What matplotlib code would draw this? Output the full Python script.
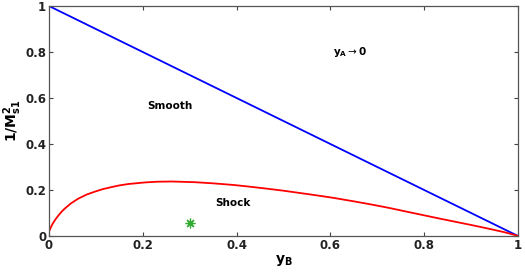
import matplotlib
matplotlib.use("Agg")
import matplotlib.pyplot as plt
import numpy as np

# Data
blue_x = [0.0, 1.0]
blue_y = [1.0, 0.0]

red_x = [0.0, 0.004, 0.008, 0.013, 0.02, 0.027, 0.034, 0.047, 0.062, 0.08, 0.098,
         0.115, 0.134, 0.15, 0.169, 0.205, 0.23, 0.262, 0.311, 0.35,
         0.393, 0.43, 0.464, 0.5, 0.535, 0.57, 0.606, 0.652, 0.69, 0.723,
         0.76, 0.795, 0.83, 0.866, 0.9, 0.937, 0.97, 0.994, 1.0]
red_y = [0.019, 0.038, 0.054, 0.07, 0.089, 0.106, 0.12, 0.142, 0.162, 0.18, 0.193,
         0.204, 0.213, 0.22, 0.226, 0.233, 0.236, 0.237, 0.234, 0.229,
         0.222, 0.214, 0.206, 0.197, 0.187, 0.177, 0.166, 0.15, 0.136, 0.123,
         0.107, 0.092, 0.077, 0.062, 0.048, 0.032, 0.017, 0.004, 0.0]

star_x = [0.3]
star_y = [0.058]

xticks = [0, 0.2, 0.4, 0.6, 0.8, 1]
xticklabels = ["0", "0.2", "0.4", "0.6", "0.8", "1"]
yticks = [0, 0.2, 0.4, 0.6, 0.8, 1]
yticklabels = ["0", "0.2", "0.4", "0.6", "0.8", "1"]

fig = plt.figure(figsize=(5.25, 2.73), dpi=100)
ax = fig.add_axes([0.0933, 0.1355, 0.8934, 0.8425])

ax.plot(blue_x, blue_y, color="#0000ff", lw=1.3)
ax.plot(red_x, red_y, color="#ff0000", lw=1.3, solid_joinstyle="round")
ax.plot(star_x, star_y, linestyle="none", marker=(8, 2, 0), markersize=7,
        color="#33aa33", markeredgewidth=0.9)

ax.set_xlim(0, 1)
ax.set_ylim(0, 1)
ax.set_xticks(xticks)
ax.set_xticklabels(xticklabels)
ax.set_yticks(yticks)
ax.set_yticklabels(yticklabels)

ax.tick_params(direction="in", top=True, right=True, length=3, width=0.8,
               color="#444444", labelsize=8.5, pad=2)
for lbl in ax.get_xticklabels() + ax.get_yticklabels():
    lbl.set_fontweight("bold")
    lbl.set_color("#222222")
for sp in ax.spines.values():
    sp.set_color("#555555")
    sp.set_linewidth(0.9)

ax.set_xlabel(r"$\mathbf{y_B}$", fontsize=10, labelpad=1)
ax.set_ylabel(r"$\mathbf{1/M_{s1}^2}$", fontsize=10, labelpad=1)

ax.text(0.258, 0.567, "Smooth", fontsize=7.5, fontweight="bold", ha="center", va="center")
ax.text(0.392, 0.142, "Shock", fontsize=7.5, fontweight="bold", ha="center", va="center")
ax.text(0.606, 0.80, r"$\mathbf{y_A}\rightarrow\mathbf{0}$", fontsize=7.5, ha="left", va="center")

fig.savefig("out.png", dpi=100)
